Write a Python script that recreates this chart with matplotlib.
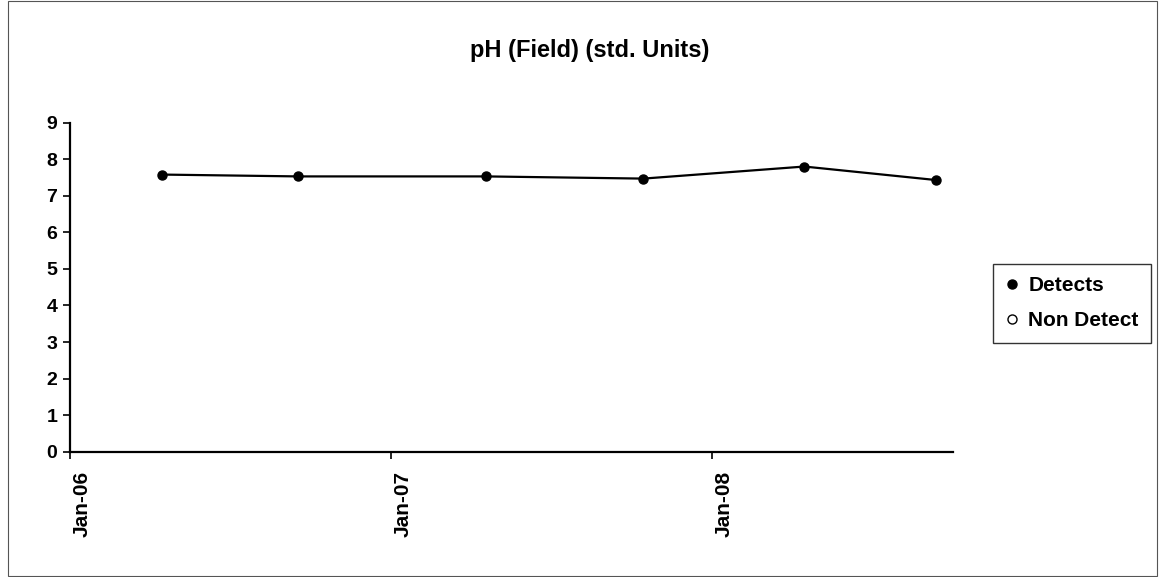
import datetime as dt
import matplotlib
matplotlib.use("Agg")
import matplotlib.pyplot as plt
import matplotlib.dates as mdates
import matplotlib.transforms as mtransforms
from matplotlib.patches import Rectangle

plt.rcParams['font.family'] = ['Liberation Sans', 'DejaVu Sans']
plt.rcParams['font.weight'] = 'bold'

# sample dates and field pH values
detect_dates = ["2006-04-16", "2006-09-17", "2007-04-19", "2007-10-15", "2008-04-15", "2008-09-12"]
detect_ph = [7.58, 7.53, 7.53, 7.47, 7.80, 7.43]
nondetect_dates = []
nondetect_ph = []

title = "pH (Field) (std. Units)"
x_start = "2006-01-01"
x_end = "2008-10-01"
y_ticks = [0, 1, 2, 3, 4, 5, 6, 7, 8, 9]


def to_dates(lst):
    return [dt.datetime.strptime(s, "%Y-%m-%d") for s in lst]


fig = plt.figure(figsize=(11.6, 5.77), dpi=100)
ax = fig.add_axes([0.0603, 0.2172, 0.7612, 0.5702])

ax.plot(to_dates(detect_dates), detect_ph, color='black', linewidth=1.6,
        marker='o', markersize=6.5, label='Detects')
ax.plot(to_dates(nondetect_dates), nondetect_ph, linestyle='none', marker='o',
        markerfacecolor='white', markeredgecolor='black', markersize=6.5,
        label='Non Detect')

ax.set_xlim(to_dates([x_start])[0], to_dates([x_end])[0])
ax.set_ylim(0, 9)
ax.set_yticks(y_ticks)
ax.xaxis.set_major_locator(mdates.YearLocator())
ax.xaxis.set_major_formatter(mdates.DateFormatter('%b-%y'))

for side in ['top', 'right']:
    ax.spines[side].set_visible(False)
for side in ['left', 'bottom']:
    ax.spines[side].set_linewidth(1.6)
    ax.spines[side].set_color('black')

ax.tick_params(axis='y', direction='out', length=5, width=1.2, labelsize=14, pad=4)
ax.tick_params(axis='x', direction='out', length=5, width=1.2, labelsize=15,
               labelrotation=90, pad=9)
# excel puts the rotated labels a bit right of the tick
shift = mtransforms.ScaledTranslation(12 / 100, 0, fig.dpi_scale_trans)
for lbl in ax.get_xticklabels():
    lbl.set_transform(lbl.get_transform() + shift)
for lbl in ax.get_xticklabels() + ax.get_yticklabels():
    lbl.set_fontweight('bold')

fig.text(0.508, 0.913, title, ha='center', va='center', fontsize=17, fontweight='bold')

leg = fig.legend(loc='upper left', bbox_to_anchor=(0.856, 0.5425), frameon=True,
                 fancybox=False, fontsize=15, handlelength=0.6, handletextpad=0.5,
                 borderpad=0.6, labelspacing=0.75, borderaxespad=0)
leg.get_frame().set_edgecolor('black')
leg.get_frame().set_linewidth(1.0)
for h in leg.get_lines():
    h.set_linestyle('none')
    h.set_markersize(6.5)

# outer chart border
fig.add_artist(Rectangle((0.007, 0.002), 0.99, 0.996, transform=fig.transFigure,
                         fill=False, edgecolor='#555555', linewidth=0.8))

fig.savefig('out.png', dpi=100)
